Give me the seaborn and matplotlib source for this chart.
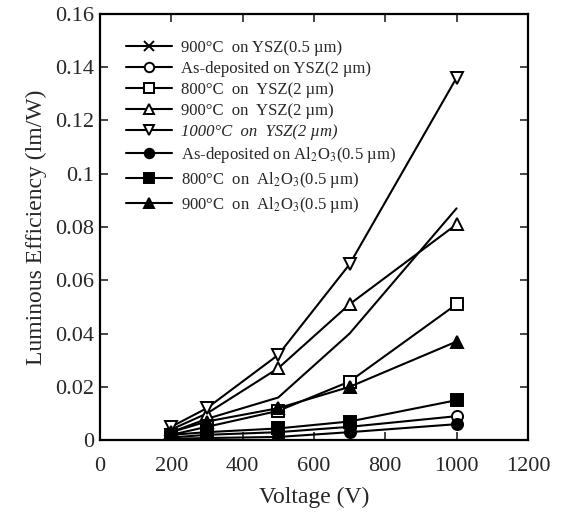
import matplotlib
matplotlib.use("Agg")
import matplotlib.pyplot as plt
from matplotlib.lines import Line2D
import seaborn as sns
import pandas as pd

# Voltage points (V)
voltage = [200, 300, 500, 700, 1000]

# Luminous efficiency (lm/W)
ysz05_900 = [0.003, 0.008, 0.016, 0.040, 0.087]
ysz2_asdep = [0.001, 0.002, 0.003, 0.005, 0.009]
ysz2_800 = [0.002, 0.005, 0.011, 0.022, 0.051]
ysz2_900 = [0.004, 0.010, 0.027, 0.051, 0.081]
ysz2_1000 = [0.005, 0.012, 0.032, 0.066, 0.136]
al_asdep = [0.0005, 0.0008, 0.0012, 0.003, 0.006]
al_800 = [0.002, 0.003, 0.0044, 0.007, 0.015]
al_900 = [0.003, 0.007, 0.012, 0.020, 0.037]

labels = [
    "900°C  on YSZ(0.5 µm)",
    "As-deposited on YSZ(2 µm)",
    "800°C  on  YSZ(2 µm)",
    "900°C  on  YSZ(2 µm)",
    "1000°C  on  YSZ(2 µm)",
    "As-deposited on Al$_2$O$_3$(0.5 µm)",
    "800°C  on  Al$_2$O$_3$(0.5 µm)",
    "900°C  on  Al$_2$O$_3$(0.5 µm)",
]
series = [ysz05_900, ysz2_asdep, ysz2_800, ysz2_900, ysz2_1000,
          al_asdep, al_800, al_900]

x_ticks = [0, 200, 400, 600, 800, 1000, 1200]
y_ticks = [0, 0.02, 0.04, 0.06, 0.08, 0.1, 0.12, 0.14, 0.16]

# marker, filled?  (the x markers are not visible on the curve itself)
styles = [(None, True), ("o", False), ("s", False), ("^", False),
          ("v", False), ("o", True), ("s", True), ("^", True)]

rows = []
for lab, vals in zip(labels, series):
    for v, e in zip(voltage, vals):
        rows.append({"Voltage": v, "Efficiency": e, "Sample": lab})
df = pd.DataFrame(rows)

sns.set_style("ticks")
plt.rcParams["font.family"] = ["Liberation Serif", "DejaVu Serif"]
plt.rcParams["mathtext.fontset"] = "stix"

fig = plt.figure(figsize=(5.61, 5.13), dpi=100)
ax = fig.add_axes([0.178, 0.142, 0.763, 0.831])

for lab, (mk, filled) in zip(labels, styles):
    sub = df[df["Sample"] == lab]
    sns.lineplot(data=sub, x="Voltage", y="Efficiency", ax=ax, label=lab,
                 color="black", linewidth=1.5, marker=mk, markersize=8,
                 markerfacecolor="black" if filled else "white",
                 markeredgecolor="black", markeredgewidth=1.4)

ax.set_xlim(0, 1200)
ax.set_ylim(0, 0.16)
ax.set_xticks(x_ticks)
ax.set_yticks(y_ticks)
ax.set_xticklabels([str(t) for t in x_ticks])
ax.set_yticklabels([f"{t:g}" for t in y_ticks])
ax.tick_params(direction="in", top=True, right=True, length=6, width=1.2,
               labelsize=16, pad=4)
ax.tick_params(axis="x", pad=12)
for sp in ax.spines.values():
    sp.set_linewidth(1.6)
    sp.set_color("black")

ax.set_xlabel("Voltage (V)", fontsize=17, labelpad=8)
ax.set_ylabel("Luminous Efficiency (lm/W)", fontsize=17, labelpad=6)

handles, labs = ax.get_legend_handles_labels()
handles[0] = Line2D([], [], color="black", linewidth=1.5, marker="x",
                    markersize=8, markeredgewidth=1.4)
leg = ax.legend(handles, labs, loc="upper left", frameon=False, fontsize=12,
                handlelength=2.8, handletextpad=0.5, labelspacing=0.30,
                markerscale=0.85, borderaxespad=0.0,
                bbox_to_anchor=(0.045, 0.955))
leg.get_texts()[4].set_style("italic")

fig.savefig("out.png", dpi=100)
